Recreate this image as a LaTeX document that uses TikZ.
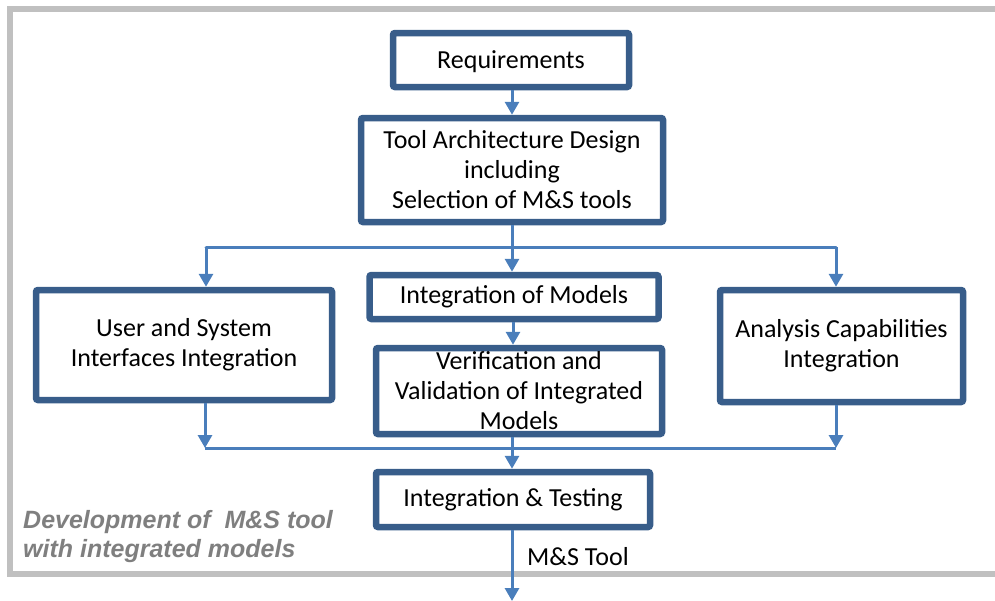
\documentclass[tikz,border=0pt]{standalone}
\usepackage{fontspec}
\setmainfont{Carlito}
\newfontfamily\devfont{Liberation Sans}
\usetikzlibrary{arrows.meta,calc}
\definecolor{boxblue}{HTML}{385D8A}
\definecolor{arrblue}{HTML}{4A7EBB}
\definecolor{framegray}{HTML}{C0C0C0}
\definecolor{devgray}{HTML}{7F7F7F}
\tikzset{
  stepbox/.style={draw=boxblue, line width=6.5pt, rounded corners=2pt, fill=white, align=center, inner sep=0pt,
    font=\fontsize{26}{30}\selectfont},
  conn/.style={draw=arrblue, line width=3pt, -{Triangle[width=14pt,length=13pt]}},
  plainline/.style={draw=arrblue, line width=3pt},
  devtext/.style={inner sep=0pt, text=devgray, font=\devfont\bfseries\itshape\fontsize{25}{29}\selectfont},
}
\begin{document}
\begin{tikzpicture}[x=1pt,y=-1pt]
\useasboundingbox (0,0) rectangle (995,600);
\draw[framegray, line width=6pt] (1010,8.5) -- (10,8.5) -- (10,574) -- (1010,574);

\node[stepbox, minimum width=236pt, minimum height=54pt, text depth=-3pt] (req) at (511,60) {Requirements};
\node[stepbox, minimum width=302pt, minimum height=104pt] (tool) at (512,170) {Tool Architecture Design\\including\\Selection of M\&S tools};
\node[stepbox, minimum width=289pt, minimum height=44pt] (iom) at (514,297) {Integration of Models};
\node[stepbox, minimum width=286pt, minimum height=86pt] (vv) at (519,391) {Verification and\\Validation of Integrated\\Models};
\node[stepbox, minimum width=296pt, minimum height=110pt] (user) at (184,345) {User and System\\Interfaces Integration};
\node[stepbox, minimum width=243pt, minimum height=112pt] (ana) at (841.5,346) {Analysis Capabilities\\Integration};
\node[stepbox, minimum width=274pt, minimum height=55pt] (it) at (513,499.5) {Integration \& Testing};

\coordinate (hl) at (206,247);
\coordinate (hm) at (512,247);
\coordinate (hr) at (836,247);
\coordinate (bl) at (205,448);
\coordinate (bm) at (512,448);
\coordinate (br) at (836,448);
\coordinate (out) at (512,601);

\draw[conn] (req.south -| hm) -- (tool.north -| hm);
\draw[plainline] (tool.south -| hm) -- (hm);
\draw[plainline, line cap=round] (hl) -- (hr);
\draw[conn] (hl) -- (hl |- user.north);
\draw[conn] (hm) -- (hm |- iom.north);
\draw[conn] (hr) -- (hr |- ana.north);
\draw[conn] (iom.south -| 513,0) -- (vv.north -| 513,0);
\draw[conn] (bl |- user.south) -- (bl);
\draw[conn] (br |- ana.south) -- (br);
\draw[plainline] (bl) -- (br);
\draw[conn] (bm |- vv.south) -- (bm |- it.north);
\draw[conn] (it.south -| bm) -- (out);

\node[anchor=west, inner sep=0pt, font=\fontsize{26}{30}\selectfont] (mstool) at (527,557) {M\&S Tool};
\node[devtext, anchor=base west] (dev1) at (23,528) {Development of\ \ M\&S tool};
\node[devtext, anchor=base west] (dev2) at (23,557) {with integrated models};
\end{tikzpicture}
\end{document}
